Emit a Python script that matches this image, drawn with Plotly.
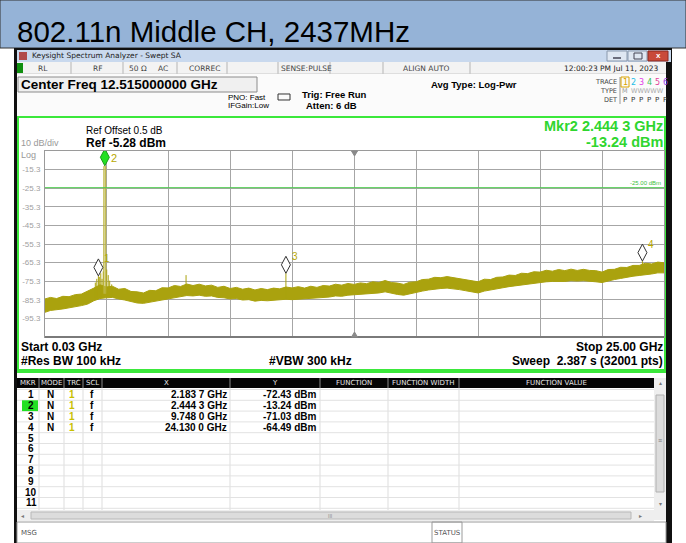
import plotly.graph_objects as go

W, H = 686, 543

# ---------------- data ----------------
title_text = "802.11n Middle CH, 2437MHz"
start_ghz, stop_ghz = 0.03, 25.0
center_ghz = 12.515
ref_level_dbm = -5.28
db_per_div = 10
display_line_dbm = -25.0

freq_ghz = [0.03, 0.25, 0.5, 0.75, 1.0, 1.25, 1.5, 1.75, 2.0, 2.25, 2.5, 2.75, 3.0, 3.25, 3.5, 3.75,
            4.0, 4.25, 4.5, 4.75, 5.0, 5.25, 5.5, 5.75, 6.0, 6.25, 6.5, 6.75, 7.0, 7.25, 7.5, 7.75,
            8.0, 8.25, 8.5, 8.75, 9.0, 9.25, 9.5, 9.75, 10.0, 10.25, 10.5, 10.75, 11.0, 11.25, 11.5, 11.75,
            12.0, 12.25, 12.5, 12.75, 13.0, 13.25, 13.5, 13.75, 14.0, 14.25, 14.5, 14.75, 15.0, 15.25, 15.5, 15.75,
            16.0, 16.25, 16.5, 16.75, 17.0, 17.25, 17.5, 17.75, 18.0, 18.25, 18.5, 18.75, 19.0, 19.25, 19.5, 19.75,
            20.0, 20.25, 20.5, 20.75, 21.0, 21.25, 21.5, 21.75, 22.0, 22.25, 22.5, 22.75, 23.0, 23.25, 23.5, 23.75,
            24.0, 24.25, 24.5, 24.75, 25.0]
trace_upper_dbm = [-84.8, -84.0, -84.6, -83.4, -83.6, -82.5, -82.2, -80.8, -79.0, -77.2, -78.4, -78.0, -79.6, -79.2, -80.8, -81.0,
                   -81.6, -80.2, -80.4, -78.8, -78.9, -77.6, -78.1, -76.8, -77.6, -76.9, -77.8, -77.4, -78.6, -78.0, -79.2, -78.6,
                   -79.6, -79.0, -80.0, -79.2, -79.8, -79.0, -79.4, -78.4, -78.9, -78.2, -79.0, -78.0, -78.6, -77.6, -77.9, -76.9,
                   -77.4, -76.5, -77.0, -76.2, -76.6, -75.6, -76.0, -74.9, -76.0, -76.3, -77.0, -75.8, -75.6, -74.4, -74.2, -73.2,
                   -73.4, -72.8, -73.4, -73.6, -74.4, -75.0, -75.6, -74.2, -74.4, -73.2, -73.0, -72.0, -72.2, -71.0, -71.2, -70.2,
                   -70.4, -69.4, -69.9, -69.0, -69.6, -68.8, -69.5, -68.9, -69.5, -69.6, -70.4, -69.0, -68.9, -67.8, -67.9, -66.8,
                   -66.8, -65.6, -66.0, -65.0, -65.4]
trace_lower_dbm = [-92.0, -91.0, -90.6, -90.2, -89.6, -89.2, -88.4, -87.6, -85.8, -84.6, -84.2, -84.0, -84.8, -85.4, -86.0, -87.0,
                   -87.2, -86.4, -85.8, -85.0, -84.4, -83.8, -83.6, -83.0, -83.2, -82.8, -83.4, -83.2, -84.0, -84.2, -84.8, -84.6,
                   -85.4, -85.2, -86.0, -85.6, -85.8, -85.6, -85.4, -85.0, -85.2, -84.8, -84.9, -84.4, -84.4, -84.0, -83.8, -83.2,
                   -83.4, -82.8, -82.8, -82.4, -82.2, -81.8, -81.6, -81.0, -81.8, -82.4, -82.8, -81.8, -81.2, -80.6, -80.0, -79.4,
                   -79.2, -79.0, -79.4, -79.8, -80.4, -81.2, -81.6, -80.6, -80.0, -79.4, -78.8, -78.2, -77.8, -77.2, -76.8, -76.4,
                   -76.0, -75.6, -75.4, -75.2, -75.4, -75.0, -75.2, -75.0, -75.2, -75.6, -76.0, -75.0, -74.4, -73.8, -73.4, -72.6,
                   -72.2, -71.6, -71.4, -70.8, -70.8]

# narrow spurious lines on top of the noise
spike_freq_ghz = [2.06, 2.12, 2.1837, 2.22, 2.28, 2.33, 2.38, 2.52, 2.58, 2.64, 2.72, 5.72, 9.748, 24.13]
spike_peak_dbm = [-76.0, -74.0, -72.43, -73.0, -71.0, -74.0, -70.0, -69.0, -72.0, -75.0, -77.0, -72.0, -71.03, -64.49]
spike_base_dbm = [-84.0, -84.0, -84.0, -84.0, -84.0, -84.0, -84.0, -84.0, -84.0, -84.0, -84.0, -83.0, -85.0, -71.0]

# the carrier (marker 2)
main_peak_freq_ghz = [2.400, 2.405, 2.4443, 2.478, 2.483]
main_peak_dbm = [-82.0, -13.5, -13.24, -13.6, -82.0]

marker_ids = ["1", "2", "3", "4"]
marker_freq_ghz = [2.1837, 2.4443, 9.748, 24.130]
marker_level_dbm = [-72.43, -13.24, -71.03, -64.49]
marker_x_text = ["2.183 7 GHz", "2.444 3 GHz", "9.748 0 GHz", "24.130 0 GHz"]
marker_y_text = ["-72.43 dBm", "-13.24 dBm", "-71.03 dBm", "-64.49 dBm"]
active_marker = 1  # index of marker 2

y_tick_text = ["-15.3", "-25.3", "-35.3", "-45.3", "-55.3", "-65.3", "-75.3", "-85.3", "-95.3"]

table_headers = ["MKR", "MODE", "TRC", "SCL", "X", "Y", "FUNCTION", "FUNCTION WIDTH", "FUNCTION VALUE"]
table_rows = ["1", "2", "3", "4", "5", "6", "7", "8", "9", "10", "11"]

# ---------------- styling / layout helpers ----------------
FONT = "Liberation Sans, Arial, sans-serif"
UI = "DejaVu Sans, Liberation Sans, sans-serif"
OLIVE = "#aaa20e"
MKR_GREEN = "#2fd62f"
PL, PR, PT, PB = 45, 664, 151, 337   # plot area in pixels


def px(x):
    return x / W


def py(y):
    return 1 - y / H


shapes = []
annos = []


def rect(x0, y0, x1, y1, fill=None, line=None, lw=1, layer="below"):
    shapes.append(dict(type="rect", xref="paper", yref="paper",
                       x0=px(x0), x1=px(x1), y0=py(y1), y1=py(y0),
                       fillcolor=fill if fill else "rgba(0,0,0,0)",
                       line=dict(color=line if line else "rgba(0,0,0,0)", width=lw if line else 0),
                       layer=layer))


def seg(x0, y0, x1, y1, color, w=1, layer="below"):
    shapes.append(dict(type="line", xref="paper", yref="paper",
                       x0=px(x0), x1=px(x1), y0=py(y0), y1=py(y1),
                       line=dict(color=color, width=w), layer=layer))


def txt(x, y, s, size=9, color="#000", bold=False, anchor="left", family=FONT):
    annos.append(dict(xref="paper", yref="paper", x=px(x), y=py(y),
                      text=("<b>%s</b>" % s) if bold else s, showarrow=False,
                      xanchor=anchor, yanchor="middle", borderpad=0,
                      font=dict(size=size, color=color, family=family)))


# ---------- page / window chrome ----------
rect(0, 0, 686, 48, fill="#95b3d7", line="#333333")
txt(16, 32, title_text, size=29.5, color="#000", family=FONT)
rect(14, 48, 672, 543, fill="#101010")
rect(17, 50, 671, 62, fill="#c9d9ee")
rect(19, 52, 27, 60, fill="#b04a4a")
txt(31, 56, "Keysight Spectrum Analyzer - Swept SA", size=7.5, color="#222", family=UI)
rect(607, 51, 627, 61, fill="#dfe7f2", line="#8a99ad")
rect(628, 51, 647, 61, fill="#dfe7f2", line="#8a99ad")
rect(648, 51, 668, 61, fill="#c94a3a", line="#8a2a20")
seg(613, 58, 621, 58, "#445", 1.5)
rect(634, 53, 642, 59, line="#445", lw=1)
txt(658, 56, "x", size=8, color="#fff", bold=True, anchor="center")

# status row
rect(17, 62, 666, 74, fill="#f3f3f3")
rect(17, 63, 23, 73, fill="#0f8f0f")
for xd in [71, 123, 177, 227, 278, 330, 383, 470]:
    seg(xd, 62, xd, 74, "#b5b5b5")
seg(17, 74, 666, 74, "#c8c8c8")
txt(37, 68, "RL", size=7.5, color="#444", family=UI)
txt(92, 68, "RF", size=7.5, color="#444", family=UI)
txt(128, 68, "50 Ω", size=7.5, color="#444", family=UI)
txt(157, 68, "AC", size=7.5, color="#444", family=UI)
txt(188, 68, "CORREC", size=7.5, color="#444", family=UI)
txt(280, 68, "SENSE:PULSE", size=7.5, color="#444", family=UI)
txt(426, 68, "ALIGN AUTO", size=7.5, color="#444", anchor="center", family=UI)
txt(660, 68, "12:00:23 PM Jul 11, 2023", size=7.5, color="#222", anchor="right", family=UI)

# settings area
rect(17, 74, 666, 116, fill="#fbfbfb")
rect(18, 77, 257, 92, fill="#f0f0f0", line="#8c8c8c")
txt(20, 85, "Center Freq 12.515000000 GHz", size=13.5, bold=True)
txt(227, 97, "PNO: Fast", size=8)
txt(227, 106, "IFGain:Low", size=8)
shapes.append(dict(type="path", xref="paper", yref="paper",
                   path="M %f %f L %f %f L %f %f L %f %f Z" % (px(278), py(94), px(290), py(94), px(290), py(100), px(278), py(100)),
                   line=dict(color="#333", width=1), fillcolor="rgba(0,0,0,0)", layer="below"))
txt(301, 94, "Trig: Free Run", size=9.5, bold=True)
txt(305, 106, "Atten: 6 dB", size=9.5, bold=True)
txt(430, 84, "Avg Type: Log-Pwr", size=9.5, bold=True)
seg(620, 77, 620, 104, "#999")
txt(618, 82, "TRACE", size=6.5, color="#444", anchor="right", family=UI)
txt(618, 91, "TYPE", size=6.5, color="#444", anchor="right", family=UI)
txt(618, 100, "DET", size=6.5, color="#444", anchor="right", family=UI)
trace_num_colors = ["#d9a400", "#23bde6", "#e23be6", "#3cc35a", "#e23b9a", "#9a43e6"]
for i, c in enumerate(trace_num_colors):
    txt(625 + i * 8, 82, str(i + 1), size=8, color=c, anchor="center", family=UI)
    txt(625 + i * 8, 100, "P", size=7, color="#333", anchor="center", family=UI)
rect(621, 77, 629, 87, line="#d9a400", lw=1)
txt(625, 91, "M", size=6.5, color="#999", anchor="center", family=UI)
txt(647, 91, "WWWWW", size=6.5, color="#aaa", anchor="center", family=UI)

# graph panel
rect(18, 117, 665, 370, fill="#ffffff", line="#3be83b", lw=2)
txt(85, 130.5, "Ref Offset 0.5 dB", size=10)
txt(85, 143.5, "Ref -5.28 dBm", size=12, bold=True)
txt(20, 143.5, "10 dB/div", size=9, color="#999")
txt(20, 154.5, "Log", size=9, color="#999")
txt(664, 126, "Mkr2 %s" % marker_x_text[active_marker], size=14.5, bold=True, color=MKR_GREEN, anchor="right")
txt(664, 142, marker_y_text[active_marker], size=14.5, bold=True, color=MKR_GREEN, anchor="right")
txt(662, 182.5, "-25.00 dBm", size=6, color="#3cbf3c", anchor="right")
txt(20, 347, "Start 0.03 GHz", size=12, bold=True)
txt(20, 361, "#Res BW 100 kHz", size=12, bold=True)
txt(268, 361, "#VBW 300 kHz", size=12, bold=True)
txt(664, 347, "Stop 25.00 GHz", size=12, bold=True, anchor="right")
txt(664, 361, "Sweep  2.387 s (32001 pts)", size=12, bold=True, anchor="right")
seg(PL, PB, PR, PB, "#7a7a7a", 2, layer="above")

# marker table
rect(17, 372, 666, 522, fill="#ffffff")
seg(17, 372, 666, 372, "#3be83b", 2)
rect(17, 378, 654, 388, fill="#050505")
col_edges = [17, 39, 64, 83, 102, 230, 320, 388, 459, 654]
for i, hname in enumerate(table_headers):
    cx = (col_edges[i] + col_edges[i + 1]) / 2
    txt(cx, 383, hname, size=7, color="#e8e8e8", anchor="center", family=UI)
for xe in col_edges[1:-1]:
    seg(xe, 378, xe, 388, "#8a8a8a")
    seg(xe, 388, xe, 510, "#dddddd")
row_h = 10.8
row_y0 = 389.5
for r in range(12):
    seg(17, row_y0 + r * row_h, 654, row_y0 + r * row_h, "#e2e2e2")
rect(22, row_y0 + row_h * active_marker, 38, row_y0 + row_h * (active_marker + 1), fill="#22e022")
for r, lab in enumerate(table_rows):
    yc = row_y0 + row_h * (r + 0.5)
    txt(31, yc, lab, size=10, bold=True, anchor="center")
for i in range(len(marker_ids)):
    yc = row_y0 + row_h * (i + 0.5)
    txt(50, yc, "N", size=10, bold=True, anchor="center")
    txt(72, yc, "1", size=10, bold=True, anchor="center", color="#c8c000")
    txt(92, yc, "f", size=10, bold=True, anchor="center")
    txt(228, yc, marker_x_text[i], size=10, bold=True, anchor="right")
    txt(317, yc, marker_y_text[i], size=10, bold=True, anchor="right")
# scrollbars
rect(654, 378, 666, 520, fill="#eeeeee")
rect(656, 395, 664, 492, fill="#dcdcdc", line="#b0b0b0")
txt(660, 383, "▴", size=6, color="#777", anchor="center")
txt(660, 504, "▾", size=6, color="#777", anchor="center")
txt(660, 440, "≡", size=7, color="#777", anchor="center")
rect(17, 510, 654, 521, fill="#eeeeee")
rect(31, 512, 631, 519, fill="#dcdcdc", line="#b8b8b8")
txt(22, 516, "◂", size=6, color="#777", anchor="center")
txt(640, 516, "▸", size=6, color="#777", anchor="center")
txt(330, 516, "III", size=5, color="#888", anchor="center")

# message bar
rect(17, 522, 666, 543, fill="#ffffff", line="#9a9a9a")
txt(20, 533, "MSG", size=7, color="#555", family=UI)
rect(432, 522, 462, 543, line="#9a9a9a")
txt(447, 533, "STATUS", size=7, color="#555", anchor="center", family=UI)

# ---------------- traces ----------------
fig = go.Figure()
fig.add_trace(go.Scatter(
    x=freq_ghz + freq_ghz[::-1], y=trace_upper_dbm + trace_lower_dbm[::-1],
    fill="toself", fillcolor=OLIVE, mode="lines", line=dict(color=OLIVE, width=1),
    hoverinfo="skip", showlegend=False))
sx, sy = [], []
for f, pk, bs in zip(spike_freq_ghz, spike_peak_dbm, spike_base_dbm):
    sx += [f, f, None]
    sy += [bs, pk, None]
fig.add_trace(go.Scatter(x=sx, y=sy, mode="lines", line=dict(color=OLIVE, width=1),
                         hoverinfo="skip", showlegend=False))
fig.add_trace(go.Scatter(x=main_peak_freq_ghz, y=main_peak_dbm, mode="lines",
                         line=dict(color="#b8b030", width=1), fill="toself",
                         fillcolor="rgba(200,195,120,0.5)", hoverinfo="skip", showlegend=False))

# display line
shapes.append(dict(type="line", xref="x domain", yref="y", x0=0, x1=1,
                   y0=display_line_dbm, y1=display_line_dbm,
                   line=dict(color="#4ccc4c", width=1), layer="above"))

# center frequency triangles
shapes.append(dict(type="path", xref="x", yref="y domain", xsizemode="pixel", ysizemode="pixel",
                   xanchor=center_ghz, yanchor=1, path="M -3 0 L 3 0 L 0 -5 Z",
                   fillcolor="#8a8a8a", line=dict(color="#8a8a8a", width=1)))
shapes.append(dict(type="path", xref="x", yref="y domain", xsizemode="pixel", ysizemode="pixel",
                   xanchor=center_ghz, yanchor=0, path="M -3 0 L 3 0 L 0 5 Z",
                   fillcolor="#8a8a8a", line=dict(color="#8a8a8a", width=1)))

# marker diamonds and labels
for i, (mid, f, lv) in enumerate(zip(marker_ids, marker_freq_ghz, marker_level_dbm)):
    active = (i == active_marker)
    shapes.append(dict(type="path", xref="x", yref="y", xsizemode="pixel", ysizemode="pixel",
                       xanchor=f, yanchor=lv, path="M 0 0 L 4.5 8.5 L 0 17 L -4.5 8.5 Z",
                       fillcolor="#22e022" if active else "#ffffff",
                       line=dict(color="#1a9a1a" if active else "#333333", width=1)))
    annos.append(dict(xref="x", yref="y", x=f, y=lv, text=mid, showarrow=False,
                      xshift=9, yshift=8 if active else 17,
                      font=dict(size=11 if active else 10, color="#b8a800", family=FONT)))

ref_bottom = ref_level_dbm - 10 * db_per_div
y_tick_vals = [ref_level_dbm - db_per_div * (k + 1) for k in range(len(y_tick_text))]
x_div = (stop_ghz - start_ghz) / 10
x_grid_vals = [start_ghz + x_div * k for k in range(1, 10)]

fig.update_layout(
    width=W, height=H, margin=dict(l=0, r=0, t=0, b=0),
    paper_bgcolor="#ffffff", plot_bgcolor="#ffffff",
    shapes=shapes, annotations=annos, showlegend=False,
    xaxis=dict(domain=[px(PL), px(PR)], range=[start_ghz, stop_ghz], tickvals=x_grid_vals,
               showticklabels=False, showgrid=True, gridcolor="#a6a6a6", gridwidth=1,
               showline=True, linecolor="#9a9a9a", linewidth=1, mirror=True, zeroline=False,
               ticks="", fixedrange=True),
    yaxis=dict(domain=[py(PB), py(PT)], range=[ref_bottom, ref_level_dbm], tickvals=y_tick_vals,
               ticktext=y_tick_text, tickfont=dict(size=8, color="#a0a0a0", family=FONT),
               showgrid=True, gridcolor="#a6a6a6", gridwidth=1,
               showline=True, linecolor="#9a9a9a", linewidth=1, mirror=True, zeroline=False,
               ticks="", ticklabelstandoff=2, fixedrange=True),
)

fig.write_html("out.html", config={"displayModeBar": False},
               post_script="document.body.style.margin='0px';document.body.style.overflow='hidden';")
